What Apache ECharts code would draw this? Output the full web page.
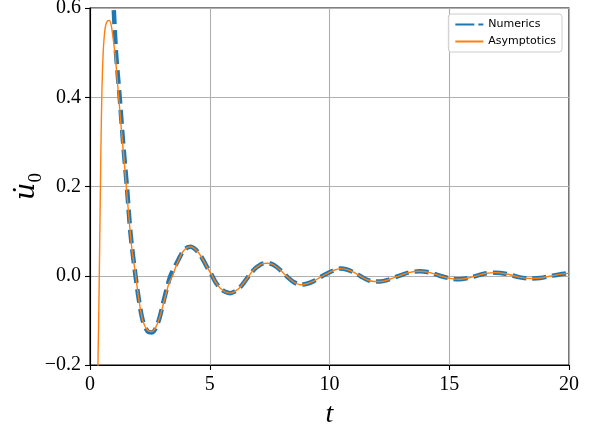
<!DOCTYPE html>
<html>
<head>
<meta charset="utf-8">
<script src="https://cdn.jsdelivr.net/npm/echarts@6/dist/echarts.min.js"></script>
<style>
    html, body { margin: 0; padding: 0; background: #fff; }
    #chart { width: 596px; height: 427px; }
</style>
</head>
<body>
<div id="chart"></div>
<script>
// values
var tAsy = [0.32, 0.34, 0.36, 0.38, 0.40, 0.43, 0.46, 0.50, 0.55, 0.60, 0.66, 0.73, 0.81, 0.89, 0.97,
    1.06, 1.13, 1.20, 1.33, 1.47, 1.61, 1.75, 1.91, 2.03, 2.20, 2.40, 2.59, 2.75, 2.90, 3.05, 3.20,
    3.33, 3.45, 3.56, 3.70, 3.85, 3.98, 4.10, 4.22, 4.38, 4.54, 4.70, 4.88, 5.10, 5.25, 5.44, 5.65,
    5.86, 6.05, 6.28, 6.50, 6.69, 6.87, 7.04, 7.20, 7.39, 7.60, 7.81, 8.00, 8.23, 8.50, 8.78, 9.05,
    9.34, 9.62, 9.90, 10.17, 10.45, 10.72, 11.00, 11.30, 11.57, 11.85, 12.12, 12.40, 12.70, 12.96,
    13.30, 13.76, 14.20, 14.60, 15.04, 15.39, 15.80, 16.20, 16.50, 16.92, 17.40, 17.90, 18.38,
    18.80, 19.20, 19.60, 20.00];
var uAsy = [-0.25, -0.17, -0.11, -0.03, 0.05, 0.18, 0.30, 0.42, 0.50, 0.54, 0.563, 0.571, 0.572, 0.56, 0.53,
    0.49, 0.445, 0.40, 0.315, 0.23, 0.14, 0.06, 0.0, -0.05, -0.10, -0.122, -0.125, -0.115, -0.095, -0.066, -0.035,
    -0.012, 0.0, 0.017, 0.035, 0.052, 0.060, 0.064, 0.065, 0.060, 0.051, 0.038, 0.020, 0.0, -0.015, -0.028, -0.036,
    -0.039, -0.035, -0.025, -0.010, 0.004, 0.015, 0.022, 0.027, 0.028, 0.026, 0.019, 0.010, -0.002, -0.014, -0.020, -0.018,
    -0.012, -0.003, 0.005, 0.012, 0.016, 0.014, 0.008, -0.001, -0.009, -0.013, -0.013, -0.010, -0.004, 0.001,
    0.007, 0.010, 0.007, 0.0, -0.006, -0.008, -0.005, 0.001, 0.005, 0.007, 0.004, -0.003, -0.006,
    -0.005, -0.001, 0.003, 0.006];

var tNum = [0.96, 0.99, 1.08, 1.16, 1.24, 1.38, 1.54, 1.70, 1.90, 2.03, 2.20, 2.40, 2.59, 2.75, 2.90,
    3.05, 3.20, 3.30, 3.40, 3.56, 3.70, 3.85, 3.98, 4.10, 4.22, 4.38, 4.54, 4.70, 4.88, 5.10, 5.25,
    5.44, 5.65, 5.86, 6.05, 6.28, 6.50, 6.69, 6.87, 7.04, 7.20, 7.39, 7.60, 7.81, 8.00, 8.23, 8.50,
    8.78, 9.05, 9.34, 9.62, 9.90, 10.17, 10.45, 10.72, 11.00, 11.30, 11.57, 11.85, 12.12, 12.40,
    12.70, 12.96, 13.30, 13.76, 14.20, 14.60, 15.04, 15.39, 15.80, 16.20, 16.50, 16.92, 17.40,
    17.90, 18.38, 18.80, 19.20, 19.60, 20.00];
var uNum = [0.64, 0.60, 0.505, 0.45, 0.40, 0.30, 0.20, 0.09, 0.0, -0.05, -0.10, -0.124, -0.127, -0.117, -0.095,
    -0.062, -0.030, -0.010, 0.005, 0.022, 0.037, 0.052, 0.060, 0.064, 0.065, 0.060, 0.051, 0.038, 0.020, 0.0, -0.015,
    -0.028, -0.036, -0.039, -0.035, -0.025, -0.010, 0.004, 0.015, 0.022, 0.027, 0.028, 0.026, 0.019, 0.010, -0.002, -0.014,
    -0.020, -0.018, -0.012, -0.003, 0.005, 0.012, 0.016, 0.014, 0.008, -0.001, -0.009, -0.013, -0.013, -0.010,
    -0.004, 0.001, 0.007, 0.010, 0.007, 0.0, -0.006, -0.008, -0.005, 0.001, 0.005, 0.007, 0.004,
    -0.003, -0.006, -0.005, -0.001, 0.003, 0.006];

var xTicks = [0, 5, 10, 15, 20];
var yTicks = [-0.2, 0.0, 0.2, 0.4, 0.6];

function pairs(xs, ys) {
    var out = [];
    for (var i = 0; i < xs.length; i++) {
        out.push([xs[i], ys[i]]);
    }
    return out;
}

var serif = 'Liberation Serif';
var myChart = echarts.init(document.getElementById('chart'));
var option = {
    animation: false,
    grid: {
        left: 90,
        right: 27,
        top: 8,
        bottom: 62,
        outerBoundsMode: 'none',
        containLabel: false,
        show: true,
        borderColor: '#000',
        borderWidth: 1.1,
        backgroundColor: 'transparent'
    },
    legend: {
        orient: 'vertical',
        right: 34,
        top: 14,
        padding: [5, 6, 5, 6],
        itemWidth: 28,
        itemHeight: 10,
        itemGap: 6,
        backgroundColor: 'rgba(255,255,255,0.85)',
        borderColor: '#cccccc',
        borderWidth: 1,
        borderRadius: 3,
        itemStyle: { opacity: 0 },
        textStyle: { fontFamily: 'DejaVu Sans', fontSize: 11, color: '#000' },
        data: [{ name: 'Numerics', lineStyle: { type: [19, 4] } }, 'Asymptotics']
    },
    xAxis: {
        type: 'value',
        min: xTicks[0],
        max: xTicks[xTicks.length - 1],
        interval: 5,
        name: 't',
        nameLocation: 'middle',
        nameGap: 36,
        nameTextStyle: { fontFamily: serif, fontStyle: 'italic', fontSize: 28, color: '#000' },
        axisLine: { show: true, onZero: false, lineStyle: { color: '#000', width: 1.1 } },
        axisTick: { show: true, length: 5, lineStyle: { color: '#000', width: 1.1 } },
        axisLabel: { margin: 10, fontFamily: serif, fontSize: 20, color: '#000' },
        splitLine: { show: true, lineStyle: { color: '#b0b0b0', width: 1.1 } }
    },
    yAxis: {
        type: 'value',
        min: yTicks[0],
        max: yTicks[yTicks.length - 1],
        interval: 0.2,
        name: '{u|u\u0307}{s|0}',
        nameLocation: 'middle',
        nameRotate: 90,
        nameGap: 44,
        nameMoveOverlap: false,
        nameTextStyle: {
            fontFamily: 'DejaVu Serif',
            color: '#000',
            rich: {
                u: { fontFamily: 'DejaVu Serif', fontStyle: 'italic', fontSize: 27, color: '#000', verticalAlign: 'bottom', padding: [0, 0, 6, 0] },
                s: { fontFamily: serif, fontSize: 19, color: '#000', verticalAlign: 'bottom' }
            }
        },
        axisLine: { show: true, onZero: false, lineStyle: { color: '#000', width: 1.1 } },
        axisTick: { show: true, length: 5, lineStyle: { color: '#000', width: 1.1 } },
        axisLabel: {
            margin: 9,
            fontFamily: serif,
            fontSize: 20,
            color: '#000',
            formatter: function (v) {
                var s = Math.abs(v).toFixed(1);
                return v < -1e-9 ? '\u2212' + s : s;
            }
        },
        splitLine: { show: true, lineStyle: { color: '#b0b0b0', width: 1.1 } }
    },
    series: [{
        name: 'Numerics',
        type: 'line',
        data: pairs(tNum, uNum),
        symbol: 'none',
        smooth: 0.3,
        clip: true,
        z: 2,
        lineStyle: { color: '#1f77b4', width: 4.5, type: [14, 6] },
        itemStyle: { color: '#1f77b4' }
    }, {
        name: 'Asymptotics',
        type: 'line',
        data: pairs(tAsy, uAsy),
        symbol: 'none',
        smooth: 0.3,
        clip: true,
        z: 3,
        lineStyle: { color: '#ff7f0e', width: 1.4 },
        itemStyle: { color: '#ff7f0e' }
    }]
};
myChart.setOption(option);
</script>
</body>
</html>
